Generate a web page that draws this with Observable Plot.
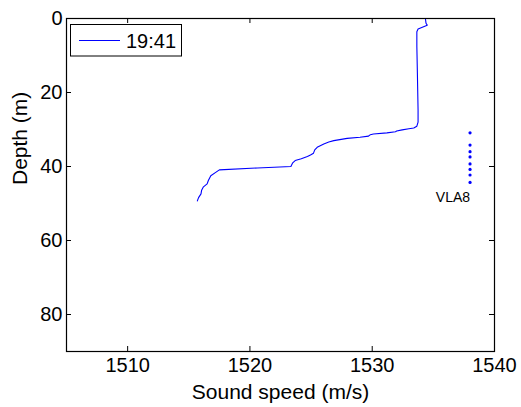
<!DOCTYPE html>
<html>
<head>
<meta charset="utf-8">
<script src="https://cdn.jsdelivr.net/npm/d3@7"></script>
<script src="https://cdn.jsdelivr.net/npm/@observablehq/plot@0.6"></script>
<style>
  html, body { margin: 0; padding: 0; background: #fff; }
  #chart svg { display: block; background: #fff; }
</style>
</head>
<body>
<div id="chart"></div>
<script>
// Sound speed profile (m/s) vs depth (m), cast at 19:41
const profileSpeed = [1534.35, 1534.4, 1534.5, 1533.75, 1533.65, 1533.65, 1533.7, 1533.75, 1533.75, 1533.65,
  1533.4, 1533.0, 1532.45, 1532.0, 1531.9, 1531.2, 1530.1, 1529.85, 1529.7, 1529.0,
  1527.95, 1526.86, 1526.45, 1526.04, 1525.5, 1525.3, 1525.2, 1524.95, 1524.7, 1524.2,
  1523.7, 1523.5, 1523.35, 1520.6, 1517.5, 1517.2, 1516.8, 1516.6, 1516.5, 1516.2,
  1516.05, 1516.0, 1515.8, 1515.7];
const profileDepth = [0, 1.3, 1.8, 2.85, 3.6, 7.6, 15.8, 24.8, 28.0, 29.1,
  29.6, 29.8, 30.1, 30.4, 30.6, 30.9, 31.2, 31.4, 31.8, 32.1,
  32.4, 33.0, 33.4, 33.9, 34.8, 35.5, 36.4, 36.9, 37.3, 37.9,
  38.4, 39.0, 40.0, 40.4, 40.9, 41.6, 42.5, 43.8, 44.7, 45.5,
  46.4, 47.4, 48.4, 49.3];
// Vertical line array hydrophones
const vlaSpeed = [1538, 1538, 1538, 1538, 1538, 1538, 1538, 1538];
const vlaDepth = [30.9, 34.2, 36.0, 37.4, 39.3, 40.8, 42.3, 44.3];
const vlaLabel = "VLA8";
const legendLabel = "19:41";
const xTicks = [1510, 1520, 1530, 1540];
const yTicks = [0, 20, 40, 60, 80];
const xLabel = "Sound speed (m/s)";
const yLabel = "Depth (m)";

const profile = profileSpeed.map((s, i) => ({speed: s, depth: profileDepth[i]}));
const vla = vlaSpeed.map((s, i) => ({speed: s, depth: vlaDepth[i]}));

const W = 521, H = 407;
const mL = 66, mR = 27, mT = 18, mB = 56;
const frameW = W - mL - mR, frameH = H - mT - mB;
const font = "'Liberation Sans', Arial, Helvetica, sans-serif";

const plot = Plot.plot({
  width: W, height: H,
  marginLeft: mL, marginRight: mR, marginTop: mT, marginBottom: mB,
  style: {fontFamily: font, background: "#fff", color: "#000"},
  x: {domain: [1505, 1540]},
  y: {domain: [0, 90], reverse: true},
  marks: [
    Plot.line(profile, {x: "speed", y: "depth", stroke: "#0000ff", strokeWidth: 1.1, curve: "linear"}),
    Plot.dot(vla, {x: "speed", y: "depth", fill: "#0000ff", stroke: null, r: 1.6}),
    Plot.text([vlaLabel], {x: () => 1536.6, y: () => 48.4, text: d => d, fontSize: 14, fill: "#000", fontFamily: font}),
    // inward ticks (bottom, top, left, right)
    Plot.tickX(xTicks, {x: d => d, insetTop: frameH - 5, stroke: "#000"}),
    Plot.tickX(xTicks, {x: d => d, insetBottom: frameH - 5, stroke: "#000"}),
    Plot.tickY(yTicks, {y: d => d, insetRight: frameW - 5, stroke: "#000"}),
    Plot.tickY(yTicks, {y: d => d, insetLeft: frameW - 5, stroke: "#000"}),
    Plot.axisX(xTicks, {tickSize: 0, tickPadding: 6, fontSize: 20, label: null, fill: "#000", tickFormat: d => String(d)}),
    Plot.axisY(yTicks, {tickSize: 0, tickPadding: 4, fontSize: 20, label: null, fill: "#000", tickFormat: d => String(d)}),
    Plot.text([xLabel], {frameAnchor: "bottom", dy: 47, text: d => d, fontSize: 21, fill: "#000"}),
    Plot.text([yLabel], {frameAnchor: "left", dx: -46, rotate: -90, text: d => d, fontSize: 21, fill: "#000"}),
    Plot.frame({stroke: "#000", strokeWidth: 1.2})
  ]
});

document.getElementById("chart").appendChild(plot);

// Legend box inside the axes (top-left)
const svg = d3.select(plot);
const lg = svg.append("g").attr("class", "legend");
lg.append("rect").attr("x", 70.5).attr("y", 24.5).attr("width", 111).attr("height", 31.5)
  .attr("fill", "#fff").attr("stroke", "#000").attr("stroke-width", 1);
lg.append("line").attr("x1", 79).attr("x2", 120).attr("y1", 40.5).attr("y2", 40.5)
  .attr("stroke", "#0000ff").attr("stroke-width", 1.1);
lg.append("text").attr("x", 126).attr("y", 47.5).attr("font-size", 20)
  .attr("text-anchor", "start")
  .attr("font-family", font).attr("fill", "#000").text(legendLabel);
</script>
</body>
</html>
